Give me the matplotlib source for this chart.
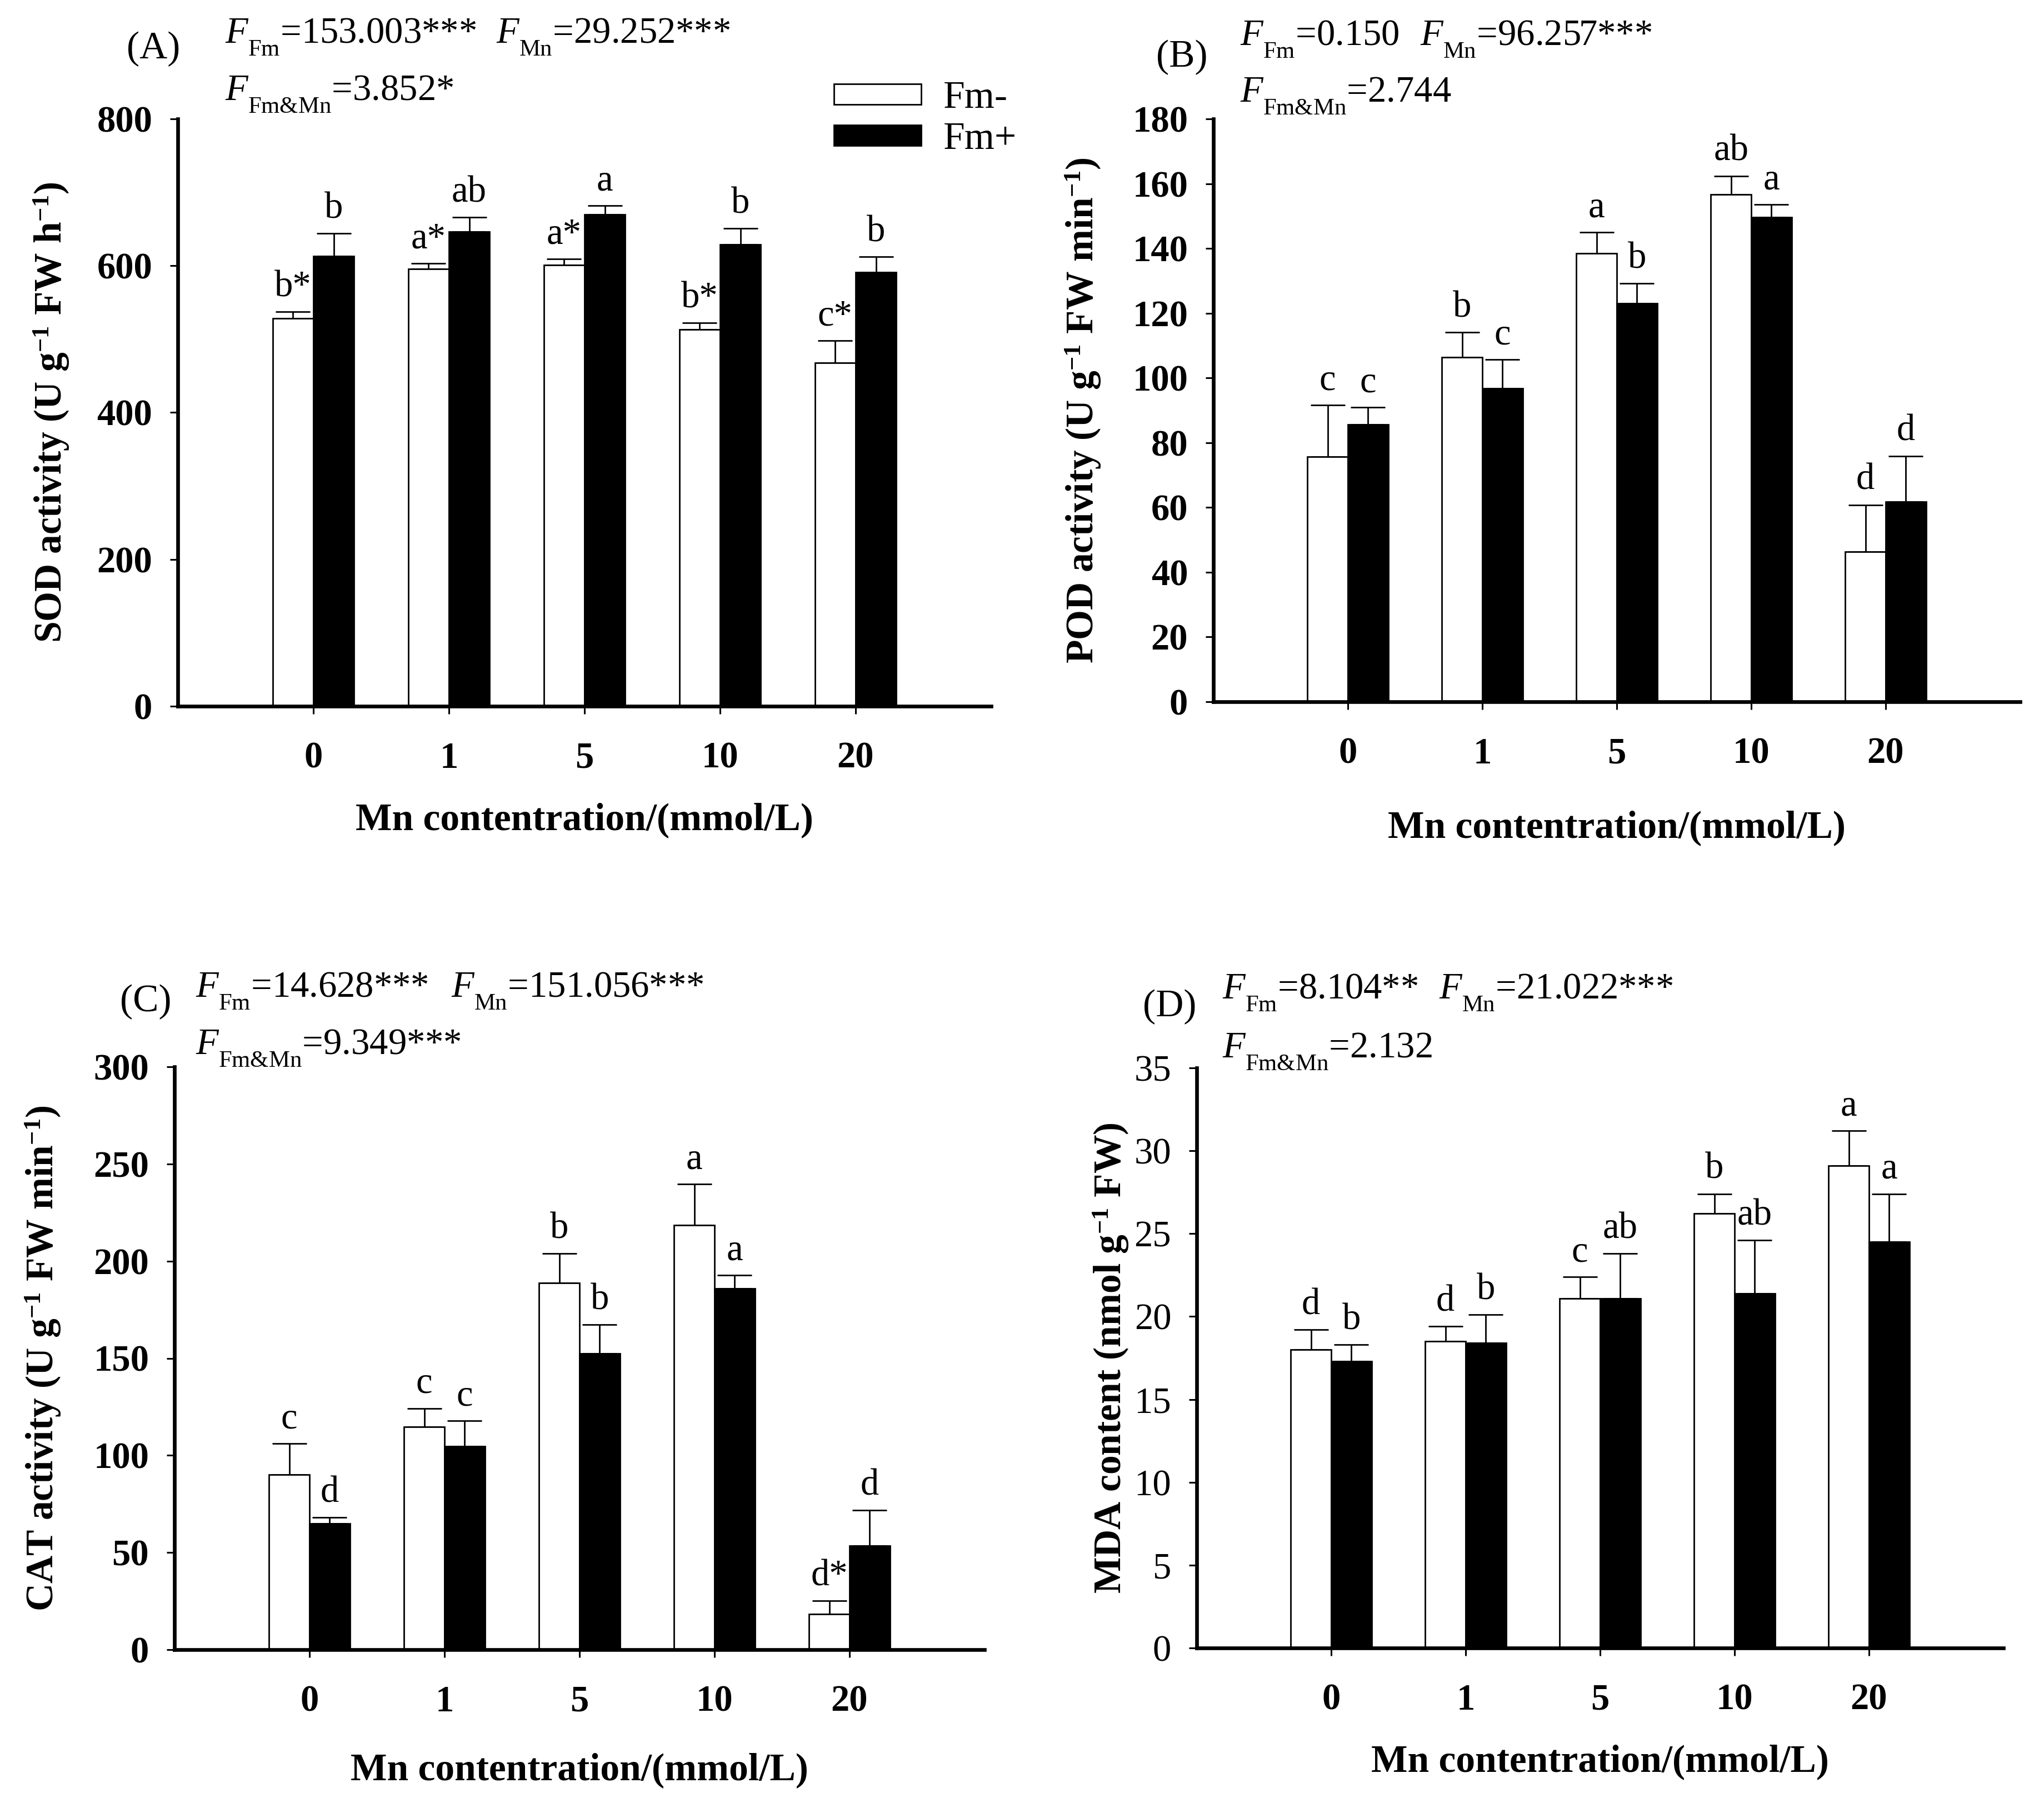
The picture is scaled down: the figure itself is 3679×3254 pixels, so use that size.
import numpy as np
import matplotlib
matplotlib.use('Agg')
import matplotlib.pyplot as plt

plt.rcParams['font.family'] = 'Liberation Serif'
plt.rcParams['mathtext.fontset'] = 'custom'
plt.rcParams['mathtext.rm'] = 'Liberation Serif'
plt.rcParams['mathtext.it'] = 'Liberation Serif:italic'
plt.rcParams['mathtext.bf'] = 'Liberation Serif:bold'

# smaller, lower subscripts like the original figure
try:
    from matplotlib import _mathtext
    _mathtext.FontConstantsBase.sub1 = 0.75
    _mathtext.SHRINK_FACTOR = 0.64
except Exception:
    pass

# Mn levels on the x axis
mn_levels = ['0', '1', '5', '10', '20']

# (A) SOD
sod_minus = [528, 596, 601, 513, 468]
sod_minus_err = [9, 7, 8, 9, 30]
sod_plus = [613, 646, 670, 629, 591]
sod_plus_err = [31, 20, 12, 22, 21]
sod_minus_lab = ['b*', 'a*', 'a*', 'b*', 'c*']
sod_plus_lab = ['b', 'ab', 'a', 'b', 'b']

# (B) POD
pod_minus = [75.6, 106.4, 138.4, 156.7, 46.4]
pod_minus_err = [16.0, 7.7, 6.6, 5.7, 14.4]
pod_plus = [85.6, 96.7, 123.1, 149.6, 61.8]
pod_plus_err = [5.3, 9.0, 6.1, 3.9, 14.1]
pod_minus_lab = ['c', 'b', 'a', 'ab', 'd']
pod_plus_lab = ['c', 'c', 'b', 'a', 'd']

# (C) CAT
cat_minus = [90.0, 114.6, 188.7, 218.6, 18.2]
cat_minus_err = [16.0, 9.6, 15.2, 21.1, 7.0]
cat_plus = [64.8, 104.6, 152.4, 185.8, 53.6]
cat_plus_err = [3.2, 13.2, 14.9, 7.0, 18.2]
cat_minus_lab = ['c', 'c', 'b', 'a', 'd*']
cat_plus_lab = ['d', 'c', 'b', 'a', 'd']

# (D) MDA
mda_minus = [18.0, 18.5, 21.1, 26.2, 29.1]
mda_minus_err = [1.2, 0.9, 1.3, 1.2, 2.1]
mda_plus = [17.3, 18.4, 21.1, 21.4, 24.5]
mda_plus_err = [1.0, 1.7, 2.7, 3.2, 2.9]
mda_minus_lab = ['d', 'd', 'c', 'b', 'a']
mda_plus_lab = ['b', 'b', 'ab', 'ab', 'a']

W, H = 3680, 3254
fig = plt.figure(figsize=(W / 100, H / 100), dpi=100)


def rect(l, r, t, b):
    return [l / W, 1 - b / H, (r - l) / W, (b - t) / H]


def ftext(x, y, s, **kw):
    fig.text(x / W, 1 - y / H, s, **kw)


x = np.arange(len(mn_levels))
bw = 0.3


def panel(box, minus, minus_err, plus, plus_err, minus_lab, plus_lab,
          ymax, ystep, ylabel, ylab_x, xlab_y, ybold=True):
    ax = fig.add_axes(rect(*box))
    ax.errorbar(x - bw / 2, minus, yerr=[np.zeros(5), minus_err], fmt='none',
                ecolor='k', elinewidth=2, capsize=22, capthick=2, zorder=1)
    ax.errorbar(x + bw / 2, plus, yerr=[np.zeros(5), plus_err], fmt='none',
                ecolor='k', elinewidth=2, capsize=22, capthick=2, zorder=1)
    b1 = ax.bar(x - bw / 2, minus, bw, color='white', edgecolor='black',
                linewidth=2, zorder=2, label='Fm-')
    b2 = ax.bar(x + bw / 2, plus, bw, color='black', edgecolor='black',
                linewidth=2, zorder=2, label='Fm+')
    for i in range(5):
        ax.annotate(minus_lab[i], (x[i] - bw / 2, minus[i] + minus_err[i]),
                    xytext=(0, 20), textcoords='offset points',
                    ha='center', va='baseline', fontsize=48)
        ax.annotate(plus_lab[i], (x[i] + bw / 2, plus[i] + plus_err[i]),
                    xytext=(0, 20), textcoords='offset points',
                    ha='center', va='baseline', fontsize=48)
    ax.set_xlim(-1, 5)
    ax.set_ylim(0, ymax)
    ax.set_yticks(np.arange(0, ymax + ystep / 2, ystep))
    ax.set_xticks(x)
    ax.set_xticklabels(mn_levels, fontsize=48, fontweight='bold')
    for lab in ax.get_yticklabels():
        lab.set_fontsize(48)
        lab.set_fontweight('bold' if ybold else 'normal')
    for s in ['top', 'right']:
        ax.spines[s].set_visible(False)
    for s in ['left', 'bottom']:
        ax.spines[s].set_linewidth(4.8)
    ax.tick_params(axis='y', direction='out', length=10, width=2.2, pad=23)
    ax.tick_params(axis='x', direction='out', length=10, width=2.2, pad=36)
    ax.set_ylabel(ylabel, fontsize=50, fontweight='bold')
    ax.yaxis.label.set_verticalalignment('center')
    l, r, t, b = box
    ax.yaxis.set_label_coords((ylab_x - l) / (r - l), 0.5)
    ax.set_xlabel('Mn contentration/(mmol/L)', fontsize=50, fontweight='bold')
    ax.xaxis.label.set_verticalalignment('center')
    ax.xaxis.set_label_coords(0.5, -(xlab_y - b) / (b - t))
    return ax, b1, b2


axA, bA1, bA2 = panel((320, 1784, 214, 1271), sod_minus, sod_minus_err,
                      sod_plus, sod_plus_err, sod_minus_lab, sod_plus_lab,
                      800, 200, r'SOD activity (U g$^{\mathbf{-1}}$ FW h$^{\mathbf{-1}}$)',
                      93, 1476)
axB, _, _ = panel((2184, 3636, 214, 1263), pod_minus, pod_minus_err,
                  pod_plus, pod_plus_err, pod_minus_lab, pod_plus_lab,
                  180, 20, r'POD activity (U g$^{\mathbf{-1}}$ FW min$^{\mathbf{-1}}$)',
                  1950, 1490)
axC, _, _ = panel((314, 1772, 1920, 2969), cat_minus, cat_minus_err,
                  cat_plus, cat_plus_err, cat_minus_lab, cat_plus_lab,
                  300, 50, r'CAT activity (U g$^{\mathbf{-1}}$ FW min$^{\mathbf{-1}}$)',
                  78, 3186)
axD, _, _ = panel((2154, 3606, 1922, 2966), mda_minus, mda_minus_err,
                  mda_plus, mda_plus_err, mda_minus_lab, mda_plus_lab,
                  35, 5, r'MDA content (nmol g$^{\mathbf{-1}}$ FW)',
                  2000, 3171, ybold=False)

axA.legend(handles=[bA1, bA2], loc='upper left',
           bbox_to_anchor=(1501 / W, 1 - 146 / H), bbox_transform=fig.transFigure,
           frameon=False, fontsize=50, handlelength=2.26, handleheight=0.45,
           handletextpad=0.58, labelspacing=0.15, borderpad=0, borderaxespad=0)

# panel letters and ANOVA F values
stat_fs = 48
let_fs = 50
ftext(228, 88, '(A)', fontsize=let_fs, va='center')
ftext(405, 78, r'$\mathit{F}_{\mathrm{Fm}}$=153.003***', fontsize=stat_fs, va='baseline')
ftext(893, 78, r'$\mathit{F}_{\mathrm{Mn}}$=29.252***', fontsize=stat_fs, va='baseline')
ftext(405, 180, r'$\mathit{F}_{\mathrm{Fm&Mn}}$=3.852*', fontsize=stat_fs, va='baseline')

ftext(2081, 103, '(B)', fontsize=let_fs, va='center')
ftext(2232, 82, r'$\mathit{F}_{\mathrm{Fm}}$=0.150', fontsize=stat_fs, va='baseline')
ftext(2556, 82, r'$\mathit{F}_{\mathrm{Mn}}$=96.257***', fontsize=stat_fs, va='baseline')
ftext(2232, 183, r'$\mathit{F}_{\mathrm{Fm&Mn}}$=2.744', fontsize=stat_fs, va='baseline')

ftext(216, 1803, '(C)', fontsize=let_fs, va='center')
ftext(352, 1795, r'$\mathit{F}_{\mathrm{Fm}}$=14.628***', fontsize=stat_fs, va='baseline')
ftext(812, 1795, r'$\mathit{F}_{\mathrm{Mn}}$=151.056***', fontsize=stat_fs, va='baseline')
ftext(352, 1897, r'$\mathit{F}_{\mathrm{Fm&Mn}}$=9.349***', fontsize=stat_fs, va='baseline')

ftext(2057, 1812, '(D)', fontsize=let_fs, va='center')
ftext(2200, 1798, r'$\mathit{F}_{\mathrm{Fm}}$=8.104**', fontsize=stat_fs, va='baseline')
ftext(2590, 1798, r'$\mathit{F}_{\mathrm{Mn}}$=21.022***', fontsize=stat_fs, va='baseline')
ftext(2200, 1903, r'$\mathit{F}_{\mathrm{Fm&Mn}}$=2.132', fontsize=stat_fs, va='baseline')

fig.savefig('out.png', dpi=100)
